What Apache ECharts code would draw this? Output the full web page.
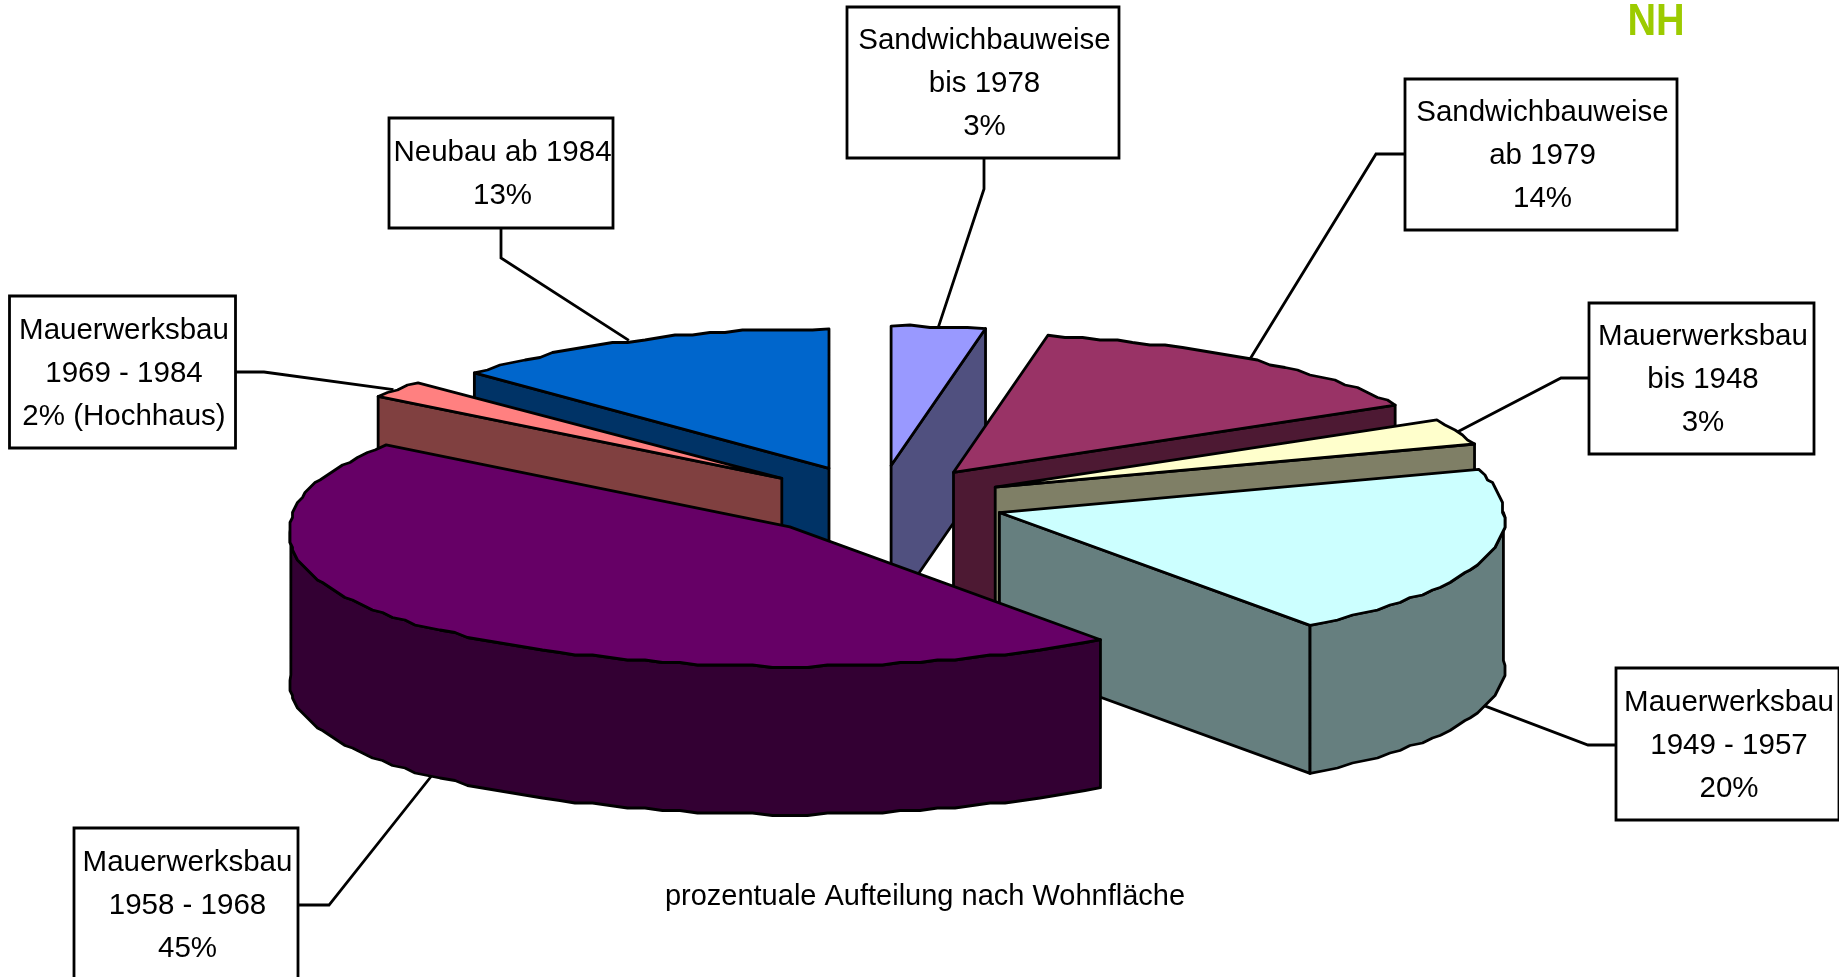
<!DOCTYPE html>
<html><head><meta charset="utf-8">
<style>html,body{margin:0;padding:0;background:#fff}#c{width:1839px;height:977px}</style>
<script src="https://cdn.jsdelivr.net/npm/echarts@6/dist/echarts.min.js"></script>
</head><body><div id="c"></div>
<script>
// Data, clockwise from 12 o'clock
const categories = ['Sandwichbauweise|bis 1978','Sandwichbauweise|ab 1979','Mauerwerksbau|bis 1948','Mauerwerksbau|1949 - 1957','Mauerwerksbau|1958 - 1968','Mauerwerksbau|1969 - 1984','Neubau ab 1984'];
const values = [3,14,3,20,45,2,13];
const valueSuffix = ['%','%','%','%','%','% (Hochhaus)','%'];
const topColors = ['#9999FF','#993366','#FFFFCC','#CCFFFF','#660066','#FF8080','#0066CC'];
const sideColors = ['#50507F','#4D1933','#7F7F66','#667F7F','#330033','#804040','#003366'];
// Layout
const drawOrder = [0,1,6,5,2,3,4];
const boxes = [[847,7,272,151],[1405,79,272,151],[1589,303,225,151],[1616,668,223,152],[74,828,224,152],[9.5,296,226,152],[389,118,224,110]];
const elbows = [[[984,158],[984,189]],[[1405,154],[1376,154]],[[1589,378],[1561,378]],[[1616,745],[1588,745]],[[298,905],[329,905]],[[235,372],[264,372]],[[501,228],[501,258]]];
const sliceScale = [1,1,1,1,1,1,0.975];
const pie = {cx:879.2, cy:501.4, rx:504, ry:139.5, explodeX:126.4, explodeY:36, frontWiden:0.06, leftScale:0.99, h:148, lw:2.8, snap:2.5, step:2};
const title = 'prozentuale Aufteilung nach Wohnfläche';
const logo = 'NH';
const lineH = 43, font = '29.5px "Liberation Sans"';

const total = values.reduce((a,b)=>a+b,0);
function sliceAngles(i){
  let s=0; for(let k=0;k<i;k++) s+=values[k];
  return [s/total*2*Math.PI,(s+values[i])/total*2*Math.PI];
}
function geom(i){
  const [a0,a1]=sliceAngles(i), m=(a0+a1)/2;
  const ax=pie.cx+pie.explodeX*Math.sin(m), ay=pie.cy-pie.explodeY*Math.cos(m);
  const pt=(t)=>{
    const c=Math.cos(t), s=Math.sin(t), w=(1+pie.frontWiden*Math.max(0,-c))*(s<0?pie.leftScale*sliceScale[i]:1);
    return [ax+pie.rx*w*s, ay-pie.ry*c];
  };
  const plain=(t)=>[ax+pie.rx*Math.sin(t), ay-pie.ry*Math.cos(t)];
  return {a0,a1,m,ax,ay,pt,plain};
}
function snap(p,ends){
  const g=pie.snap; return ends?p:[Math.round(p[0]/g)*g,Math.round(p[1]/g)*g];
}
function arc(g,t0,t1){
  const out=[], n=Math.max(1,Math.round((t1-t0)*180/Math.PI/pie.step));
  for(let k=0;k<=n;k++){ out.push(snap(g.pt(t0+(t1-t0)*k/n),k===0||k===n)); }
  return out;
}
function poly(points,fill,z){
  return {type:'polygon',shape:{points},z2:z,style:{fill,stroke:'#000',lineWidth:pie.lw,lineJoin:'round'}};
}
const down=(p)=>[p[0],p[1]+pie.h];
function renderSlice(params,api){
  const i=api.value(0), g=geom(i), apex=[g.ax,g.ay];
  const top=topColors[i], side=sideColors[i];
  const pA=g.pt(g.a0), pB=g.pt(g.a1);
  const kids=[];
  if(Math.sin(g.a0)<-1e-9) kids.push(poly([apex,pA,down(pA),down(apex)],side,1));
  if(Math.sin(g.a1)>1e-9) kids.push(poly([apex,pB,down(pB),down(apex)],side,1));
  const w0=Math.max(g.a0,Math.PI/2), w1=Math.min(g.a1,3*Math.PI/2);
  if(w1>w0){
    const a=arc(g,w0,w1);
    kids.push(poly(a.concat(a.slice().reverse().map(down)),side,2));
  }
  kids.push(poly([apex].concat(arc(g,g.a0,g.a1)),top,3));
  return {type:'group',children:kids};
}
function anchor(i){
  const g=geom(i), p=g.plain(g.m);
  return Math.cos(g.m)<0?down(p):p;
}
function renderLabel(params,api){
  const i=api.value(0), b=boxes[i];
  const lines=categories[i].split('|').concat(values[i]+valueSuffix[i]);
  const kids=[{type:'polyline',shape:{points:elbows[i].concat([anchor(i)])},style:{fill:null,stroke:'#000',lineWidth:pie.lw}},
    {type:'rect',shape:{x:b[0],y:b[1],width:b[2],height:b[3]},style:{fill:'#fff',stroke:'#000',lineWidth:pie.lw}}];
  const x=b[0]+b[2]/2+1.5, y0=b[1]+b[3]/2-(lines.length-1)*lineH/2+1.5;
  lines.forEach((t,k)=>kids.push({type:'text',style:{text:t,x,y:y0+k*lineH,font,fill:'#000',align:'center',verticalAlign:'middle'}}));
  return {type:'group',children:kids};
}
const chart=echarts.init(document.getElementById('c'),null,{renderer:'canvas'});
chart.setOption({
  animation:false,
  backgroundColor:'#fff',
  title:{text:title,left:920,top:892,textAlign:'center',textVerticalAlign:'middle',textStyle:{fontFamily:'Liberation Sans',fontSize:29,fontWeight:'normal',color:'#000'}},
  graphic:[{type:'text',x:1656,y:1,silent:true,scaleX:0.9,originX:0,style:{text:logo,font:'bold 44px "Liberation Sans"',fill:'#9CCB00',align:'center',verticalAlign:'top'}}],
  series:[
    {type:'custom',coordinateSystem:'none',silent:true,z:2,renderItem:renderLabel,data:categories.map((c,i)=>[i,values[i]])},
    {type:'custom',coordinateSystem:'none',silent:true,z:3,renderItem:renderSlice,data:drawOrder.map(i=>[i,values[i]])}
  ]
});
</script></body></html>
